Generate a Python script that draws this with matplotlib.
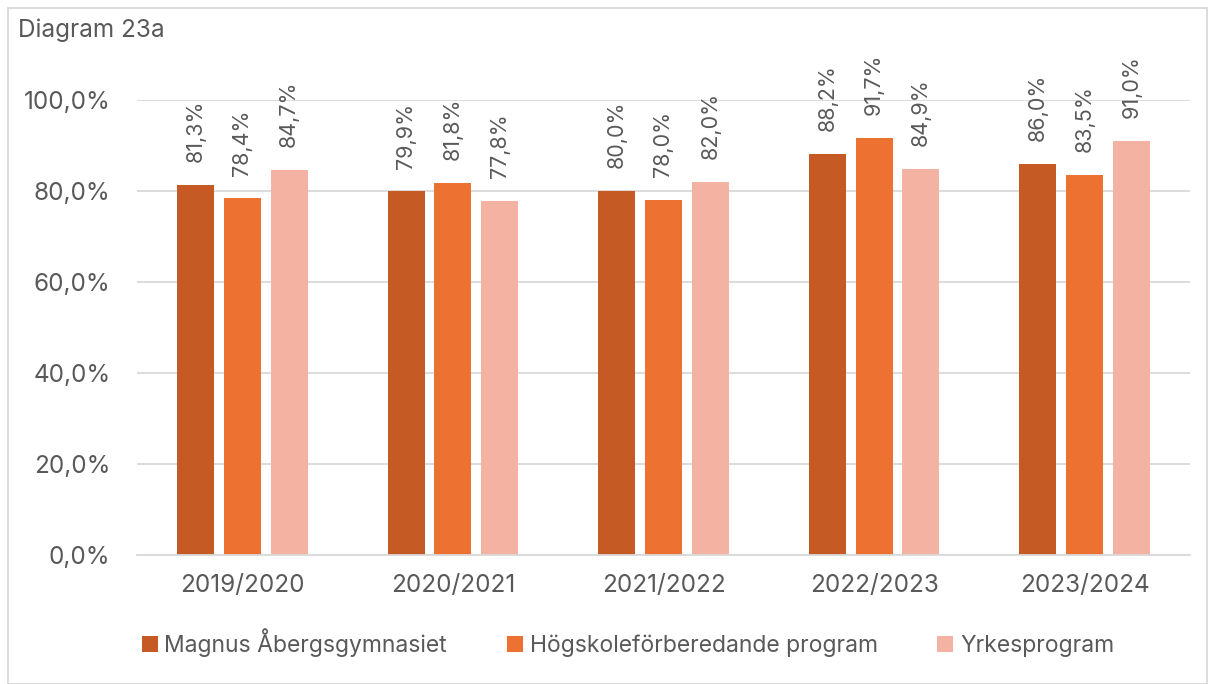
import matplotlib.pyplot as plt
import numpy as np
from matplotlib.patches import Rectangle

plt.rcParams['font.family'] = ['Inter', 'DejaVu Sans']

# Data
years = ['2019/2020', '2020/2021', '2021/2022', '2022/2023', '2023/2024']
series_names = ['Magnus Åbergsgymnasiet', 'Högskoleförberedande program', 'Yrkesprogram']
magnus = [81.3, 79.9, 80.0, 88.2, 86.0]
hogskole = [78.4, 81.8, 78.0, 91.7, 83.5]
yrkes = [84.7, 77.8, 82.0, 84.9, 91.0]
colors = ['#C55A24', '#ED7232', '#F4B3A2']
text_color = '#595959'

fig = plt.figure(figsize=(12.15, 6.84), dpi=100)
ax = fig.add_axes([137 / 1215, 1 - 555 / 684, 1053 / 1215, 455 / 684])

x = np.arange(len(years))
width = 0.176
offset = 0.222
for i, (vals, name, c) in enumerate(zip([magnus, hogskole, yrkes], series_names, colors)):
    bars = ax.bar(x + (i - 1) * offset, vals, width, color=c, label=name, zorder=2)
    for b, v in zip(bars, vals):
        ax.text(b.get_x() + b.get_width() / 2, v + 5, f'{v:.1f}%'.replace('.', ','),
                rotation=90, ha='center', va='bottom', fontsize=15.5,
                color=text_color, clip_on=False)

ax.set_xlim(-0.5, len(years) - 0.5)
ax.set_ylim(0, 100)
ax.set_yticks(np.arange(0, 101, 20))
ax.set_yticklabels([f'{t:.1f}%'.replace('.', ',') for t in np.arange(0, 101, 20)])
ax.set_xticks(x)
ax.set_xticklabels(years)
ax.tick_params(axis='both', length=0, labelsize=17.5, colors=text_color)
ax.tick_params(axis='x', pad=14)
ax.tick_params(axis='y', pad=19)
ax.grid(axis='y', color='#D9D9D9', linewidth=1.3, zorder=0)
for s in ['top', 'right', 'left']:
    ax.spines[s].set_visible(False)
ax.spines['bottom'].set_color('#D9D9D9')
ax.spines['bottom'].set_linewidth(1.3)

fig.text(18 / 1215, 1 - 30 / 684, 'Diagram 23a', fontsize=17.5, color=text_color,
         va='center', ha='left')

handles, labels = ax.get_legend_handles_labels()
fig.legend(handles, labels, loc='center left', bbox_to_anchor=(137 / 1215, 1 - 643 / 684),
           ncol=3, frameon=False, fontsize=16.5, labelcolor=text_color,
           handlelength=0.7, handleheight=0.7, handletextpad=0.3, columnspacing=2.6,
           borderaxespad=0, borderpad=0.2)

fig.patches.append(Rectangle((8 / 1215, 0), 1 - 16 / 1215, 1 - 8 / 684,
                             transform=fig.transFigure, fill=False,
                             edgecolor='#D9D9D9', linewidth=1.3))

plt.savefig('out.png', dpi=100)
